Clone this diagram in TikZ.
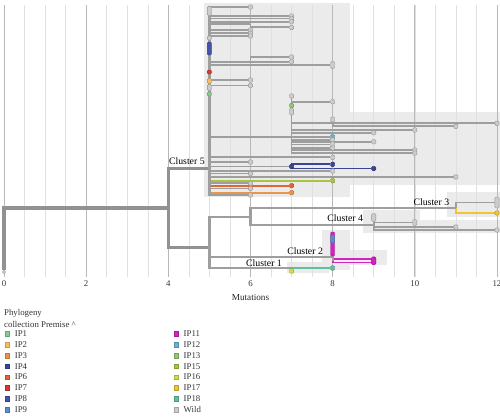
\documentclass[tikz,border=0pt]{standalone}
\usepackage{fontspec}
\setmainfont{Liberation Serif}
\definecolor{edgegray}{HTML}{9E9E9E}
\definecolor{shade}{HTML}{EBEBEB}
\definecolor{gridgray}{HTML}{E0E0E0}
\definecolor{wild}{HTML}{CCCCCC}
\definecolor{ipone}{HTML}{8DC891}
\definecolor{iptwo}{HTML}{F6BF63}
\definecolor{ipthree}{HTML}{E8964E}
\definecolor{ipfour}{HTML}{3B4596}
\definecolor{ipsix}{HTML}{E0653A}
\definecolor{ipseven}{HTML}{D73A35}
\definecolor{ipeight}{HTML}{4553A8}
\definecolor{ipnine}{HTML}{5A8ECB}
\definecolor{ipeleven}{HTML}{D225C0}
\definecolor{iptwelve}{HTML}{6DB0D4}
\definecolor{ipthirteen}{HTML}{90C877}
\definecolor{ipfifteen}{HTML}{A9C443}
\definecolor{ipsixteen}{HTML}{D5DC45}
\definecolor{ipseventeen}{HTML}{F2C335}
\definecolor{ipeighteen}{HTML}{5FBF9F}
\pgfdeclarelayer{bg}
\pgfdeclarelayer{edges}
\pgfsetlayers{bg,edges,main}
\begin{document}
\begin{tikzpicture}[x=41.08pt, y=-1pt, font=\fontsize{8.8}{10}\selectfont,
	edge/.style={draw=edgegray, line width=1.8pt},
	stem/.style={draw=edgegray, line width=2.8pt},
	trunk/.style={draw=edgegray!92!black, line width=3.8pt},
	leafdot/.style={rounded corners=1.2pt, fill=#1, draw=#1!72!black, line width=0.4pt, inner sep=0pt, minimum width=4.2pt, minimum height=4.5pt},
	leafdot/.default=wild,
	clade/.style={fill=shade},
	gridminor/.style={draw=gridgray, line width=0.5pt},
	gridmajor/.style={draw=gridgray!82!black, line width=0.7pt},
	clusterlab/.style={anchor=south east, inner sep=0.5pt, font=\fontsize{9.8}{11}\selectfont},
	legendbox/.style={fill=#1, draw=#1!80!black, line width=0.3pt, inner sep=0pt, minimum size=4.8pt},
	legendtext/.style={anchor=west, inner sep=0pt, text=black!80}]
	\useasboundingbox (-0.0974,0) rectangle (12.074,416);
	%cluster shading and grid
	\begin{pgfonlayer}{bg}
		\fill[clade] (4.87,3) rectangle (8.42,197);
		\fill[clade] (8.42,112) rectangle (12.07,185);
		\fill[clade] (10.78,192) rectangle (12.07,217);
		\fill[clade] (8.74,210) rectangle (10.13,233);
		\fill[clade] (10.13,220) rectangle (12.07,233);
		\fill[clade] (7.74,230) rectangle (8.42,270);
		\fill[clade] (8.42,250) rectangle (9.32,265);
		\fill[clade] (6.89,262) rectangle (7.9,273);
		\foreach \x in {0,0.5,...,12}
		\draw[gridminor] (\x,5) -- (\x,277);
		\foreach \x in {0,2,...,12}
		\draw[gridmajor] (\x,5) -- (\x,277);
	\end{pgfonlayer}
	%inner nodes
	\node[leafdot, minimum width=3pt, minimum height=3pt] (r) at (0,272) {};
	\coordinate (n4) at (4,208);
	\coordinate (c5) at (5,168);
	\coordinate (c5top) at (5,6);
	\coordinate (c5bot) at (5,196);
	\coordinate (n5) at (5,247);
	\coordinate (n6) at (6,217);
	\coordinate (c3) at (11,208);
	\coordinate (c4) at (9,225);
	\coordinate (c2) at (8,257);
	\coordinate (c1) at (7,268);
	\coordinate (h1) at (6,24.3);
	\coordinate (h2) at (6,61.7);
	\coordinate (h3) at (7,136.7);
	\coordinate (h4) at (8,123.3);
	\coordinate (h6) at (7,166.5);
	%leaves
	\foreach \up/\px/\py/\lc/\fc/\hgt [count=\k] in {
		c5/6/7/edgegray/wild/4.5, c5/7/16/edgegray/wild/4.5,
		c5/7/18.5/edgegray/wild/4.5, c5/7/21.7/edgegray/wild/4.5,
		c5/6/30/edgegray/wild/4.5, c5/6/33.3/edgegray/wild/4.5,
		c5/6/36/edgegray/wild/4.5, c5/8/65/edgegray/wild/7,
		c5/6/80/edgegray/wild/4.5, c5/6/85.5/edgegray/wild/4.5,
		c5/8/157.3/edgegray/wild/4.5, c5/6/162/edgegray/wild/4.5,
		c5/8/171/edgegray/wild/4.5, c5/6/173.5/edgegray/wild/4.5,
		c5/11/177/edgegray/wild/4.5, c5/8/180.7/ipfifteen/ipfifteen/4.5,
		c5/6/183.3/edgegray/wild/4.5, c5/7/185.7/ipsix/ipsix/4.5,
		c5/6/188.5/edgegray/wild/4.5, c5/7/192.7/ipthree/ipthree/4.5,
		c5/6/195/edgegray/wild/4.5,
		h1/7/27.3/edgegray/wild/4.5,
		h2/7/57/edgegray/wild/4.5, h2/7/61.7/edgegray/wild/4.5,
		h3/8/101.7/edgegray/wild/4.5, h3/10/130/edgegray/wild/4.5,
		h3/9/132.7/edgegray/wild/4.5, h3/8/137/edgegray/iptwelve/5,
		h3/8/139.8/edgegray/wild/4.5, h3/9/141.7/edgegray/wild/4.5,
		h3/8/144.5/edgegray/wild/6, h3/8/148/edgegray/wild/4.5,
		h3/10/150/edgegray/wild/4.5, h3/10/153/edgegray/wild/4.5,
		h4/12/123.3/edgegray/wild/4.5, h4/11/126.3/edgegray/wild/4.5,
		h6/8/164.3/ipfour/ipfour/4.5, h6/9/168.5/ipfour/ipfour/4.5,
		c3/12/202.5/edgegray/wild/11, c3/12/213/ipseventeen/ipseventeen/4.5,
		c4/10/222.5/edgegray/wild/6, c4/11/227/edgegray/wild/4.5,
		c4/12/230/edgegray/wild/4.5,
		c2/9/259/ipeleven/ipeleven/4.5, c2/9/262.5/ipeleven/ipeleven/4.5,
		c1/8/268/ipeighteen/ipeighteen/4.5}
	{
		\node[leafdot=\fc, minimum height=\hgt pt] (p\k) at (\px,\py) {};
		\begin{pgfonlayer}{edges}
			\draw[edge, draw=\lc] (\up) -- (\up |- p\k) -- (p\k);
		\end{pgfonlayer}
	}
	%branches
	\begin{pgfonlayer}{edges}
		\draw[edge] (c5) |- (h1);
		\draw[edge] (c5) |- (h2);
		\draw[edge] (c5) |- (h3);
		\draw[edge] (h3) |- (h4);
		\draw[edge] (c5) |- (h6);
		\draw[trunk] (r) |- (n4);
		\draw[trunk, line width=3pt] (n4) |- (c5);
		\draw[trunk, line width=3pt] (n4) |- (n5);
		\draw[stem] (c5top) -- (c5bot);
		\draw[stem] (n5) |- (n6);
		\draw[stem] (n5) |- (c2);
		\draw[stem] (n5) |- (c1);
		\draw[stem] (n6) |- (c3);
		\draw[stem] (n6) |- (c4);
	\end{pgfonlayer}
	%nodes sitting on a stem
	\foreach \up/\px/\py/\fc/\hgt [count=\k] in {
		c5/5/11/wild/9, c5/5/38/wild/4, c5/5/48.5/ipeight/13,
		c5/5/72/ipseven/4, c5/5/81/iptwo/5, c5/5/87.5/wild/6,
		c5/5/94/ipone/4, h3/7/96/wild/4.5, h3/7/105.5/ipthirteen/4.5,
		h3/7/111.5/wild/7, h4/8/119.5/wild/5, h6/7/166.5/ipfour/4.5,
		c4/9/217.5/wild/8, c2/8/244/ipeleven/24, c2/8/239/ipnine/8,
		c2/9/260.7/ipeleven/7, c1/7/271/ipsixteen/4.5}
	{
		\node[leafdot=\fc, minimum height=\hgt pt] (m\k) at (\px,\py) {};
		\begin{pgfonlayer}{edges}
			\draw[edge] (\up) -- (\up |- m\k);
		\end{pgfonlayer}
	}
	%cluster labels
	\node[clusterlab] (lab5) at ([xshift=-4pt, yshift=3pt]c5) {Cluster 5};
	\node[clusterlab] (lab3) at ([xshift=-6pt, yshift=2pt]c3) {Cluster 3};
	\node[clusterlab] (lab4) at ([xshift=-10pt, yshift=3pt]c4) {Cluster 4};
	\node[clusterlab] (lab2) at ([xshift=-9pt, yshift=2pt]c2) {Cluster 2};
	\node[clusterlab] (lab1) at ([xshift=-9pt, yshift=1pt]c1) {Cluster 1};
	%axis
	\foreach \t in {0,2,...,12}
	\node[text=black!80] (tk\t) at (\t,284) {\t};
	\node[text=black!85, font=\fontsize{9.2}{10}\selectfont] (xlab) at (6,297.5) {Mutations};
	%legend
	\node[legendtext] (lgtitle) at (0,313.5) {Phylogeny};
	\node[legendtext] (lgsub) at (0,324) {collection Premise \textasciicircum};
	\foreach \lab/\col [count=\i] in {IP1/ipone,IP2/iptwo,IP3/ipthree,IP4/ipfour,IP6/ipsix,IP7/ipseven,IP8/ipeight,IP9/ipnine}
	{
		\pgfmathsetmacro{\ly}{333.5+10.9*(\i-1)}
		\node[legendbox=\col] (lka\i) at (0.075,\ly) {};
		\node[legendtext] (lta\i) at (0.26,\ly) {\lab};
	}
	\foreach \lab/\col [count=\i] in {IP11/ipeleven,IP12/iptwelve,IP13/ipthirteen,IP15/ipfifteen,IP16/ipsixteen,IP17/ipseventeen,IP18/ipeighteen,Wild/wild}
	{
		\pgfmathsetmacro{\ly}{333.5+10.9*(\i-1)}
		\node[legendbox=\col] (lkb\i) at (4.19,\ly) {};
		\node[legendtext] (ltb\i) at (4.37,\ly) {\lab};
	}
\end{tikzpicture}
\end{document}
